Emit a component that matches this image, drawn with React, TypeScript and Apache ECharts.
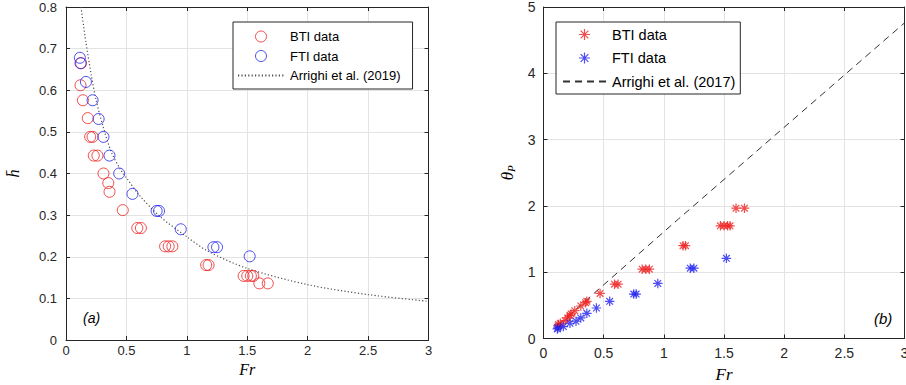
import React, { useEffect, useRef } from "react";
import * as echarts from "echarts";

// ---- Data ----
// Panel (a): h-bar vs Fr
const btiFrA = [0.12, 0.125, 0.14, 0.18, 0.2, 0.22, 0.23, 0.26, 0.31, 0.35, 0.36, 0.47, 0.59, 0.62, 0.82, 0.85, 0.88, 1.16, 1.18, 1.47, 1.5, 1.53, 1.55, 1.6, 1.67];
const btiHA = [0.612, 0.665, 0.576, 0.533, 0.488, 0.488, 0.443, 0.443, 0.4, 0.377, 0.356, 0.312, 0.269, 0.269, 0.225, 0.225, 0.225, 0.18, 0.18, 0.154, 0.154, 0.154, 0.154, 0.136, 0.136];
const ftiFrA = [0.115, 0.12, 0.165, 0.22, 0.27, 0.31, 0.36, 0.44, 0.55, 0.75, 0.77, 0.95, 1.22, 1.25, 1.52];
const ftiHA = [0.678, 0.665, 0.62, 0.576, 0.531, 0.488, 0.443, 0.4, 0.351, 0.31, 0.31, 0.266, 0.223, 0.223, 0.201];
const arrighi2019Fr = [0.124, 0.165, 0.21, 0.25, 0.3, 0.37, 0.45, 0.5, 0.6, 0.78, 1.0, 1.17, 1.5, 2.0, 2.5, 3.0];
const arrighi2019H = [0.8, 0.715, 0.635, 0.575, 0.52, 0.455, 0.41, 0.39, 0.35, 0.296, 0.248, 0.214, 0.172, 0.133, 0.109, 0.093];

// Panel (b): theta_P vs Fr
const btiFrB = [0.12, 0.125, 0.14, 0.18, 0.2, 0.22, 0.23, 0.26, 0.31, 0.35, 0.36, 0.47, 0.59, 0.62, 0.82, 0.85, 0.88, 1.16, 1.18, 1.47, 1.5, 1.53, 1.55, 1.6, 1.67];
const btiThB = [0.19, 0.21, 0.23, 0.27, 0.31, 0.35, 0.37, 0.42, 0.49, 0.54, 0.56, 0.68, 0.82, 0.82, 1.045, 1.045, 1.045, 1.4, 1.4, 1.7, 1.7, 1.7, 1.7, 1.965, 1.965];
const ftiFrB = [0.115, 0.12, 0.165, 0.22, 0.27, 0.31, 0.36, 0.44, 0.55, 0.75, 0.77, 0.95, 1.22, 1.25, 1.52];
const ftiThB = [0.145, 0.16, 0.18, 0.23, 0.26, 0.31, 0.38, 0.46, 0.56, 0.67, 0.67, 0.83, 1.06, 1.06, 1.21];
const arrighi2017Fr = [0.12, 0.7, 1.12, 3.0];
const arrighi2017Th = [0.2, 1.13, 1.8, 4.76];

// Axis ticks
const xTicks = { min: 0, max: 3, interval: 0.5 };
const yTicksA = { min: 0, max: 0.8, interval: 0.1 };
const yTicksB = { min: 0, max: 5, interval: 1 };

const legendA = ["BTI data", "FTI data", "Arrighi et al. (2019)"];
const legendB = ["BTI data", "FTI data", "Arrighi et al. (2017)"];

const RED = "#ee2020";
const BLUE = "#2020ee";
const AX = "#262626";
const GRID = "#e3e3e3";
const STAR = "path://M5,0L5,10M0,5L10,5M1.5,1.5L8.5,8.5M1.5,8.5L8.5,1.5";
const HIDE_SYMBOL = { color: "rgba(0,0,0,0)", borderColor: "rgba(0,0,0,0)", borderWidth: 0, opacity: 0 };

const zip = (a: number[], b: number[]) => a.map((v, i) => [v, b[i]]);

export default function App() {
  const ref = useRef<HTMLDivElement>(null);
  useEffect(() => {
    const chart = echarts.init(ref.current!, null, { renderer: "svg" });

    const mainX = (grid: number, fs: number, margin: number, nameGap: number, nfs: number) => ({
      type: "value",
      gridIndex: grid,
      ...xTicks,
      position: "bottom",
      name: "Fr",
      nameLocation: "middle",
      nameGap,
      nameTextStyle: { fontFamily: "Liberation Serif", fontStyle: "italic", fontSize: nfs, color: "#000" },
      axisLine: { show: true, onZero: false, lineStyle: { color: AX, width: 1 } },
      axisTick: { show: true, inside: true, length: 4, lineStyle: { color: AX } },
      axisLabel: { margin, fontFamily: "Liberation Sans", fontSize: fs, color: AX },
      splitLine: { show: true, lineStyle: { color: GRID, width: 1 } },
    });
    const boxX = (grid: number) => ({
      type: "value",
      gridIndex: grid,
      ...xTicks,
      position: "top",
      axisLine: { show: true, onZero: false, lineStyle: { color: AX, width: 1 } },
      axisTick: { show: true, inside: true, length: 4, lineStyle: { color: AX } },
      axisLabel: { show: false },
      splitLine: { show: false },
    });
    const mainY = (grid: number, ticks: any, fs: number, margin: number, name: string, nameGap: number, nameStyle: any) => ({
      type: "value",
      gridIndex: grid,
      ...ticks,
      position: "left",
      name,
      nameLocation: "middle",
      nameGap,
      nameRotate: 90,
      nameTextStyle: nameStyle,
      axisLine: { show: true, onZero: false, lineStyle: { color: AX, width: 1 } },
      axisTick: { show: true, inside: true, length: 4, lineStyle: { color: AX } },
      axisLabel: { margin, fontFamily: "Liberation Sans", fontSize: fs, color: AX },
      splitLine: { show: true, lineStyle: { color: GRID, width: 1 } },
    });
    const boxY = (grid: number, ticks: any) => ({
      type: "value",
      gridIndex: grid,
      ...ticks,
      position: "right",
      axisLine: { show: true, onZero: false, lineStyle: { color: AX, width: 1 } },
      axisTick: { show: true, inside: true, length: 4, lineStyle: { color: AX } },
      axisLabel: { show: false },
      splitLine: { show: false },
    });

    const option: any = {
      animation: false,
      backgroundColor: "#ffffff",
      grid: [
        { left: 66, top: 7, width: 362.5, height: 333, outerBoundsMode: "none", containLabel: false },
        { left: 543.5, top: 7, width: 361, height: 331.5, outerBoundsMode: "none", containLabel: false },
      ],
      xAxis: [
        mainX(0, 13, 4, 12, 16),
        boxX(0),
        mainX(1, 14, 7, 27, 17),
        boxX(1),
      ],
      yAxis: [
        mainY(0, yTicksA, 13, 9, "h\u0304", 45, { fontFamily: "Liberation Serif", fontStyle: "italic", fontSize: 16, color: "#000" }),
        boxY(0, yTicksA),
        mainY(1, yTicksB, 14, 8, "{t|θ}{s|P}", 27, {
          rich: {
            t: { fontFamily: "Liberation Serif", fontStyle: "italic", fontSize: 17, color: "#000" },
            s: { fontFamily: "Liberation Serif", fontStyle: "italic", fontSize: 11, color: "#000", padding: [8, 0, 0, 0] },
          },
        }),
        boxY(1, yTicksB),
      ],
      legend: [
        {
          left: 233,
          top: 22,
          orient: "vertical",
          data: [
            { name: legendA[0], itemStyle: { color: "rgba(0,0,0,0)", borderColor: RED, borderWidth: 1 } },
            { name: legendA[1], itemStyle: { color: "rgba(0,0,0,0)", borderColor: BLUE, borderWidth: 1 } },
            { name: legendA[2], itemStyle: HIDE_SYMBOL },
          ],
          itemWidth: 46,
          itemHeight: 11,
          itemGap: 6.5,
          padding: [8, 12, 7, 4],
          backgroundColor: "#ffffff",
          borderColor: AX,
          borderWidth: 1,
          borderRadius: 0,
          selectedMode: false,
          textStyle: { fontFamily: "Liberation Sans", fontSize: 13, color: "#000", padding: [0, 0, 0, 1] },
        },
        {
          left: 556,
          top: 22,
          orient: "vertical",
          data: [
            { name: legendB[0], icon: STAR, itemStyle: { color: "rgba(0,0,0,0)", borderColor: RED, borderWidth: 1.2 } },
            { name: legendB[1], icon: STAR, itemStyle: { color: "rgba(0,0,0,0)", borderColor: BLUE, borderWidth: 1.2 } },
            { name: legendB[2], itemStyle: HIDE_SYMBOL },
          ],
          itemWidth: 43,
          itemHeight: 11,
          itemGap: 8.5,
          padding: [5, 5, 5, 6],
          backgroundColor: "#ffffff",
          borderColor: AX,
          borderWidth: 1,
          borderRadius: 0,
          selectedMode: false,
          textStyle: { fontFamily: "Liberation Sans", fontSize: 14.5, color: "#000", padding: [0, 0, 0, 1] },
        },
      ],
      series: [
        {
          name: legendA[2],
          type: "line",
          xAxisIndex: 0,
          yAxisIndex: 0,
          data: zip(arrighi2019Fr, arrighi2019H),
          smooth: 0.3,
          symbol: "none",
          lineStyle: { color: "#505050", width: 1.2, type: [1.2, 2.2] },
          itemStyle: { color: "#505050" },
          z: 2,
        },
        {
          name: legendA[0],
          type: "scatter",
          xAxisIndex: 0,
          yAxisIndex: 0,
          data: zip(btiFrA, btiHA),
          symbol: "circle",
          symbolSize: 11,
          itemStyle: { color: "rgba(0,0,0,0)", borderColor: RED, borderWidth: 1 },
          z: 3,
        },
        {
          name: legendA[1],
          type: "scatter",
          xAxisIndex: 0,
          yAxisIndex: 0,
          data: zip(ftiFrA, ftiHA),
          symbol: "circle",
          symbolSize: 11,
          itemStyle: { color: "rgba(0,0,0,0)", borderColor: BLUE, borderWidth: 1 },
          z: 3,
        },
        {
          name: legendB[2],
          type: "line",
          xAxisIndex: 2,
          yAxisIndex: 2,
          data: zip(arrighi2017Fr, arrighi2017Th),
          symbol: "none",
          lineStyle: { color: "#333333", width: 1, type: [7, 5] },
          itemStyle: { color: "#333333" },
          z: 2,
        },
        {
          name: legendB[0] + "\u200b",
          type: "scatter",
          xAxisIndex: 2,
          yAxisIndex: 2,
          data: zip(btiFrB, btiThB),
          symbol: STAR,
          symbolSize: 9.5,
          itemStyle: { color: "rgba(0,0,0,0)", borderColor: RED, borderWidth: 1.2 },
          z: 3,
        },
        {
          name: legendB[1] + "\u200b",
          type: "scatter",
          xAxisIndex: 2,
          yAxisIndex: 2,
          data: zip(ftiFrB, ftiThB),
          symbol: STAR,
          symbolSize: 9.5,
          itemStyle: { color: "rgba(0,0,0,0)", borderColor: BLUE, borderWidth: 1.2 },
          z: 3,
        },
      ],
      graphic: [
        { type: "text", left: 83, top: 311, style: { text: "(a)", font: 'italic 14px "Liberation Sans"', fill: "#000" } },
        { type: "text", left: 874, top: 311, style: { text: "(b)", font: 'italic 15px "Liberation Sans"', fill: "#000" } },
      ],
    };
    chart.setOption(option);
    return () => chart.dispose();
  }, []);
  return <div ref={ref} style={{ position: "fixed", left: 0, top: 0, width: 906, height: 385 }} />;
}
